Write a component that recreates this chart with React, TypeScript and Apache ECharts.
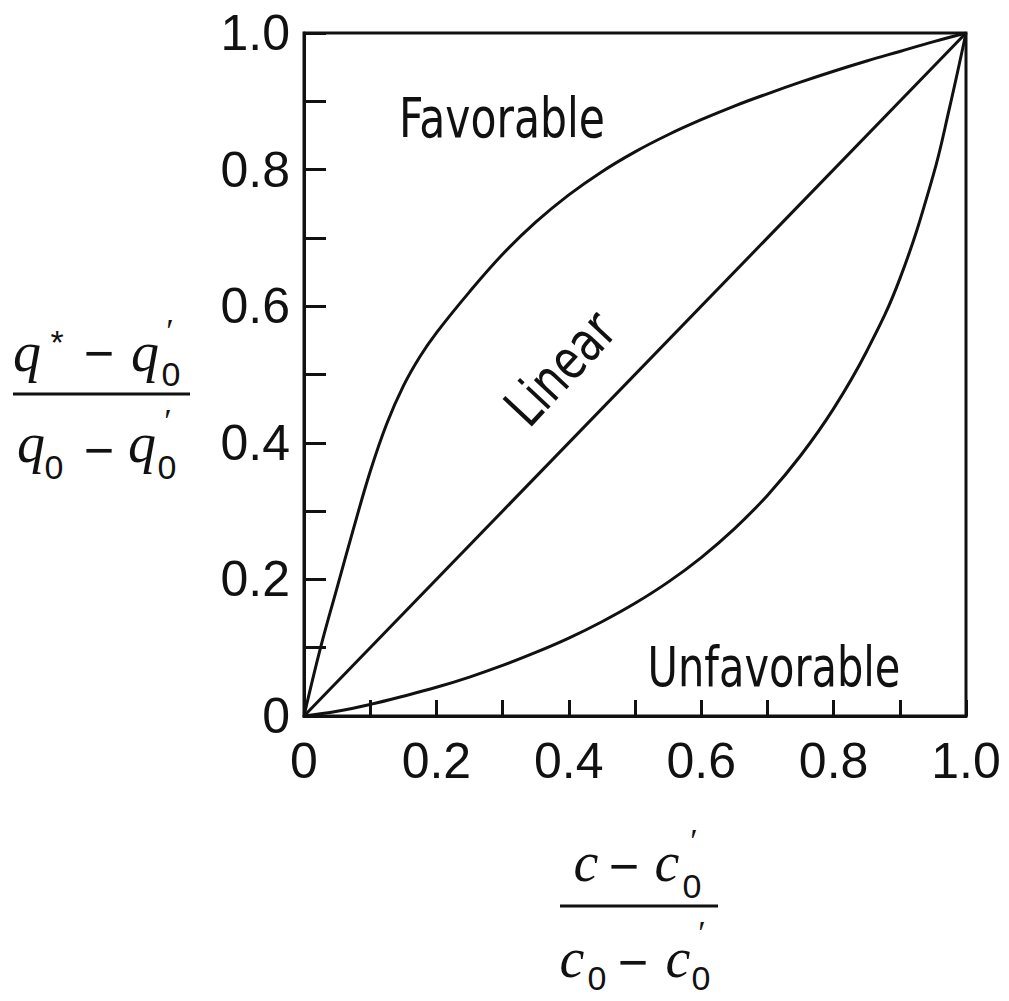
import React, { useEffect, useRef } from "react";
import * as echarts from "echarts";

// Favorable curve
const favX = [0, 0.025, 0.05, 0.075, 0.1, 0.125, 0.15, 0.175, 0.2, 0.25, 0.3, 0.35, 0.4, 0.45, 0.5, 0.55, 0.6, 0.65, 0.7, 0.75, 0.8, 0.85, 0.9, 0.95, 1.0];
const favY = [0, 0.1, 0.188, 0.275, 0.358, 0.428, 0.483, 0.526, 0.561, 0.621, 0.676, 0.723, 0.763, 0.797, 0.826, 0.851, 0.873, 0.893, 0.911, 0.928, 0.944, 0.959, 0.973, 0.987, 1.0];

// Linear
const linX = [0, 1];
const linY = [0, 1];

// Unfavorable curve
const unfX = [0, 0.05, 0.1, 0.15, 0.2, 0.25, 0.3, 0.35, 0.4, 0.45, 0.5, 0.55, 0.6, 0.65, 0.7, 0.75, 0.8, 0.85, 0.9, 0.95, 0.975, 1.0];
const unfY = [0, 0.007, 0.017, 0.029, 0.042, 0.057, 0.074, 0.093, 0.114, 0.138, 0.165, 0.196, 0.232, 0.274, 0.323, 0.381, 0.45, 0.534, 0.64, 0.79, 0.89, 1.0];

const tickValues = [0, 0.2, 0.4, 0.6, 0.8, 1.0];
const tickText = ["0", "0.2", "0.4", "0.6", "0.8", "1.0"];

const regionLabels = ["Favorable", "Linear", "Unfavorable"];

const INK = "#111";
const SERIF = "'Liberation Serif', 'DejaVu Serif', serif";
const NARROW = "'Liberation Sans Narrow', 'DejaVu Sans Condensed', sans-serif";
const SANS = "'Liberation Sans', 'DejaVu Sans', sans-serif";

function fmt(v: number): string {
  const k = Math.round(v * 10);
  for (let i = 0; i < tickValues.length; i++) {
    if (Math.round(tickValues[i] * 10) === k) return tickText[i];
  }
  return "";
}

function zip(xs: number[], ys: number[]) {
  return xs.map((x, i) => [x, ys[i]]);
}

function txt(text: string, x: number, y: number, size: number, family: string, italic = false, extra: any = {}) {
  return {
    type: "text",
    x,
    y,
    silent: true,
    ...extra,
    style: {
      text,
      fill: INK,
      fontSize: size,
      fontFamily: family,
      fontStyle: italic ? "italic" : "normal",
      align: "center",
      verticalAlign: "middle",
    },
  };
}

export default function App() {
  const ref = useRef<HTMLDivElement>(null);
  useEffect(() => {
    document.body.style.margin = "0";
    if (!ref.current) return;
    const chart = echarts.init(ref.current, undefined, { renderer: "svg" });
    const lineSeries = (name: string, data: number[][]) => ({
      name,
      type: "line",
      data,
      showSymbol: false,
      smooth: 0.4,
      lineStyle: { color: INK, width: 3 },
      silent: true,
    });
    const option: any = {
      animation: false,
      backgroundColor: "#fff",
      grid: {
        left: 304,
        right: 43,
        top: 33,
        bottom: 285,
        show: true,
        borderColor: INK,
        borderWidth: 3,
        containLabel: false,
        outerBoundsMode: "none",
      },
      xAxis: {
        type: "value",
        min: 0,
        max: 1,
        interval: 0.1,
        axisLine: { show: true, lineStyle: { color: INK, width: 3 } },
        axisTick: { show: true, inside: true, length: 16, lineStyle: { color: INK, width: 3 } },
        axisLabel: { formatter: fmt, fontSize: 50, fontFamily: SANS, color: INK, margin: 20 },
        splitLine: { show: false },
      },
      yAxis: {
        type: "value",
        min: 0,
        max: 1,
        interval: 0.1,
        axisLine: { show: true, lineStyle: { color: INK, width: 3 } },
        axisTick: { show: true, inside: true, length: 22, lineStyle: { color: INK, width: 3 } },
        axisLabel: { formatter: fmt, fontSize: 50, fontFamily: SANS, color: INK, margin: 14 },
        splitLine: { show: false },
      },
      series: [
        lineSeries("Favorable", zip(favX, favY)),
        lineSeries("Linear", zip(linX, linY)),
        lineSeries("Unfavorable", zip(unfX, unfY)),
      ],
      graphic: [
        txt(regionLabels[0], 502, 118, 55, NARROW, false, { scaleX: 0.86 }),
        txt(regionLabels[1], 560, 368, 55, NARROW, false, { scaleX: 0.86, rotation: (47 * Math.PI) / 180 }),
        txt(regionLabels[2], 774, 667, 55, NARROW, false, { scaleX: 0.84 }),
        // y-axis title: (q* - q0') / (q0 - q0')
        txt("q", 27, 352, 56, SERIF, true),
        txt("*", 57, 342, 34, SANS),
        txt("\u2212", 99, 353, 52, SANS),
        txt("q", 145, 352, 56, SERIF, true),
        txt("0", 171, 374, 34, SANS),
        txt("\u2032", 170, 330, 34, SERIF),
        { type: "line", shape: { x1: 13, y1: 394, x2: 190, y2: 394 }, style: { stroke: INK, lineWidth: 3 } },
        txt("q", 31, 443, 56, SERIF, true),
        txt("0", 54, 467, 34, SANS),
        txt("\u2212", 99, 450, 52, SANS),
        txt("q", 142, 443, 56, SERIF, true),
        txt("0", 167, 467, 34, SANS),
        txt("\u2032", 168, 420, 34, SERIF),
        // x-axis title: (c - c0') / (c0 - c0')
        txt("c", 586, 862, 56, SERIF, true),
        txt("\u2212", 624, 866, 52, SANS),
        txt("c", 667, 862, 56, SERIF, true),
        txt("0", 692, 886, 34, SANS),
        txt("\u2032", 694, 840, 34, SERIF),
        { type: "line", shape: { x1: 560, y1: 906, x2: 718, y2: 906 }, style: { stroke: INK, lineWidth: 3 } },
        txt("c", 572, 958, 56, SERIF, true),
        txt("0", 597, 978, 34, SANS),
        txt("\u2212", 633, 962, 52, SANS),
        txt("c", 678, 958, 56, SERIF, true),
        txt("0", 701, 978, 34, SANS),
        txt("\u2032", 702, 932, 34, SERIF),
      ],
    };
    chart.setOption(option);
    return () => chart.dispose();
  }, []);
  return <div ref={ref} style={{ width: 1009, height: 1001 }} />;
}
